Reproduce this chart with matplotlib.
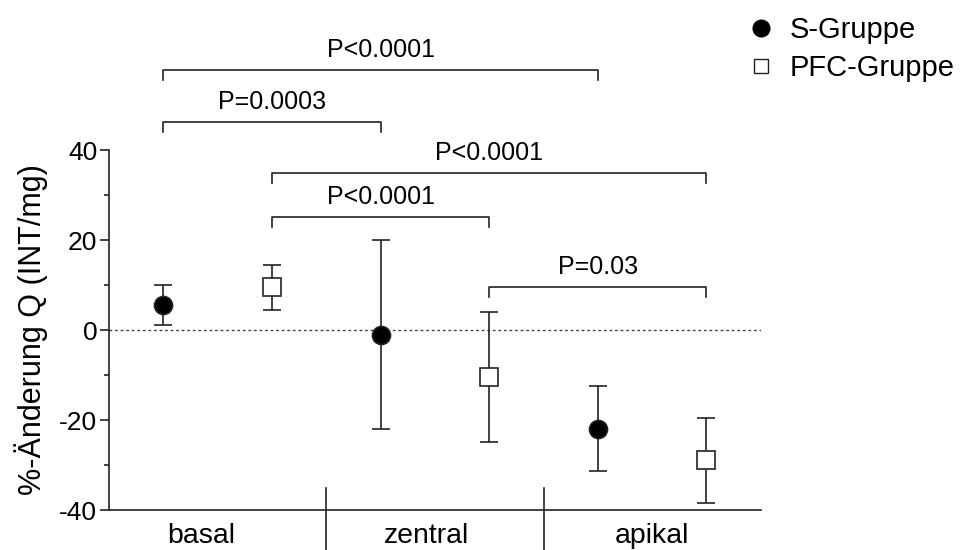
import matplotlib
matplotlib.use("Agg")
import matplotlib.pyplot as plt
from matplotlib.lines import Line2D

plt.rcParams['font.family'] = ['Liberation Sans', 'DejaVu Sans']
plt.rcParams['axes.unicode_minus'] = False

# Daten
regions = ["basal", "zentral", "apikal"]
s_mean = [5.6, -1.0, -22.0]
s_upper = [10.0, 20.0, -12.4]
s_lower = [1.1, -22.0, -31.3]
pfc_mean = [9.6, -10.4, -28.9]
pfc_upper = [14.4, 4.0, -19.6]
pfc_lower = [4.4, -24.9, -38.4]

# Signifikanz-Klammern: (von, bis, Hoehe, Text) -- Positionen 1..6
br_from = [1, 1, 2, 2, 4]
br_to = [5, 3, 6, 4, 6]
br_height = [57.8, 46.2, 34.9, 25.1, 9.6]
br_text = ["P<0.0001", "P=0.0003", "P<0.0001", "P<0.0001", "P=0.03"]

line_col = "#222222"

fig = plt.figure(figsize=(9.6, 5.5), dpi=100)
ax = fig.add_axes([0.1135, 0.0727, 0.679, 0.6545])

xs_s = [1 + 2 * i for i in range(len(regions))]
xs_p = [2 + 2 * i for i in range(len(regions))]

def draw(xs, mean, up, lo, marker, face):
    yerr = [[m - l for m, l in zip(mean, lo)], [u - m for m, u in zip(mean, up)]]
    ax.errorbar(xs, mean, yerr=yerr, fmt=marker, ms=13, mfc=face, mec=line_col,
                mew=1.2, ecolor=line_col, elinewidth=1.2, capsize=6.5, capthick=1.2,
                zorder=3)

draw(xs_s, s_mean, s_upper, s_lower, 'o', 'black')
draw(xs_p, pfc_mean, pfc_upper, pfc_lower, 's', 'white')

ax.axhline(0, color="#444444", lw=1, ls=(0, (2, 2)), zorder=1)

for a, b, h, t in zip(br_from, br_to, br_height, br_text):
    ax.plot([a, a, b, b], [h - 2.2, h, h, h - 2.2], color=line_col, lw=1.2,
            clip_on=False)
    ax.text((a + b) / 2, h + 4.4, t, ha='center', va='center', fontsize=18,
            clip_on=False)

ax.set_xlim(0.5, 6.5)
ax.set_ylim(-40, 40)
ax.set_yticks([-40, -20, 0, 20, 40])
ax.set_yticks([-30, -10, 10, 30], minor=True)
ax.tick_params(axis='y', which='major', length=6.5, width=1.2, labelsize=19,
               color=line_col, pad=2)
ax.tick_params(axis='y', which='minor', length=3.6, width=1.2, color=line_col)
ax.set_xticks([1.35, 3.42, 5.5])
ax.set_xticklabels(regions, fontsize=20.5)
ax.tick_params(axis='x', length=0, pad=9)

for xd in [2.5, 4.5]:
    ax.axvline(xd, ymin=-42 / 360, ymax=22 / 360, color=line_col, lw=1.2,
               clip_on=False)

ax.spines['top'].set_visible(False)
ax.spines['right'].set_visible(False)
for sp in ['left', 'bottom']:
    ax.spines[sp].set_color(line_col)
    ax.spines[sp].set_linewidth(1.2)

ax.set_ylabel("%-Änderung Q (INT/mg)", fontsize=22, labelpad=8)

handles = [
    Line2D([], [], marker='o', ls='', ms=12, mfc='black', mec='black'),
    Line2D([], [], marker='s', ls='', ms=10, mfc='white', mec=line_col, mew=1),
]
fig.legend(handles, ["S-Gruppe", "PFC-Gruppe"], loc='upper left',
           bbox_to_anchor=(0.747, 1.019), frameon=False, fontsize=21,
           handletextpad=0.4, labelspacing=0.36, handlelength=1.2)

fig.savefig("out.png")
